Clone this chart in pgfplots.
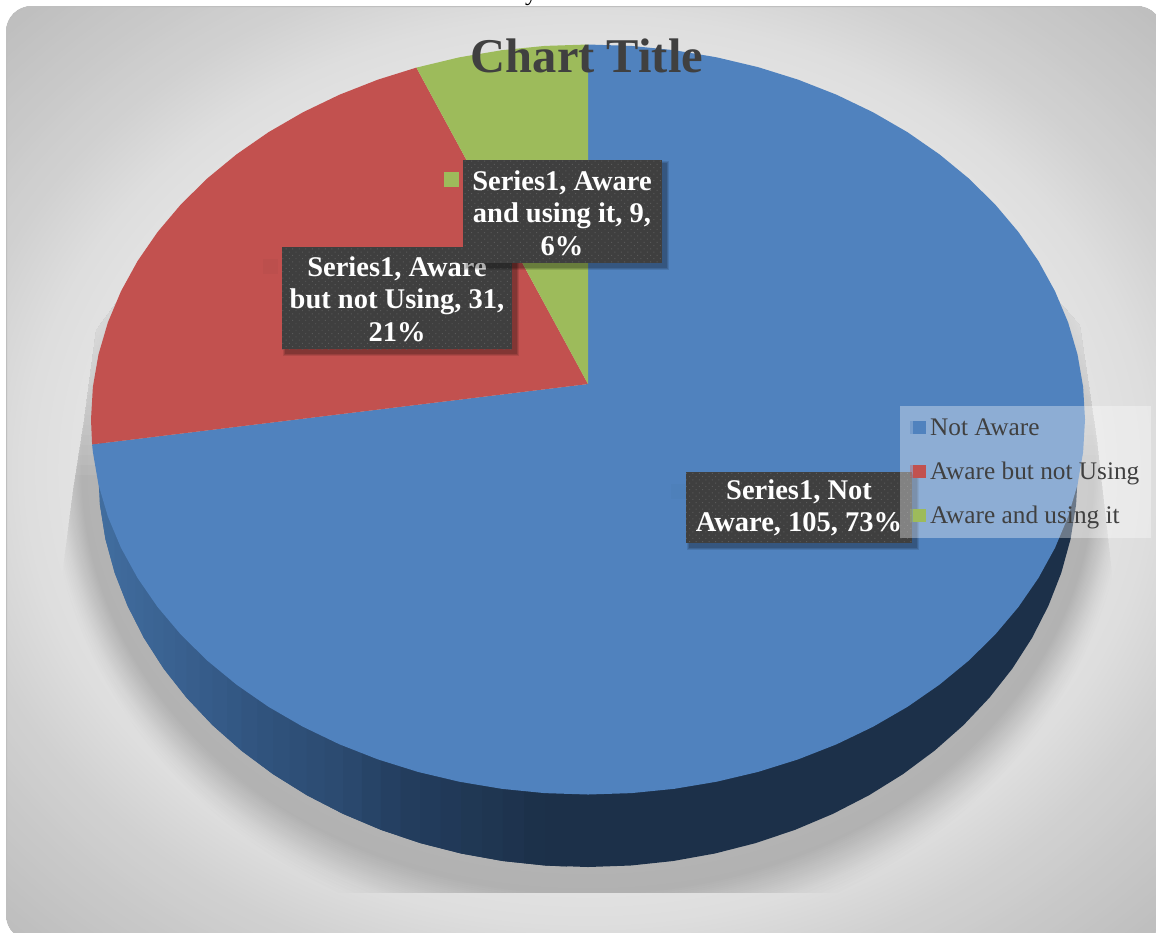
\documentclass[border=0pt]{standalone}
\usepackage{fontspec}
\setmainfont{Liberation Serif}
\usepackage{pgfplots}
\pgfplotsset{compat=1.18}
\usetikzlibrary{patterns.meta}

\definecolor{pieblue}{HTML}{5082BE}
\definecolor{piered}{HTML}{C2514F}
\definecolor{piegreen}{HTML}{9DBB5B}
\definecolor{boxgrey}{HTML}{3F3F3F}
\definecolor{boxdot}{HTML}{5A5A5A}
\definecolor{inkgrey}{HTML}{404040}

% dark data-label box with a soft offset shadow: x0, y0, x1, y1
\newcommand{\labelbox}[4]{%
  \fill[black,opacity=.10] (axis cs:#1+1,#2+1) rectangle (axis cs:#3+7,#4+7);
  \fill[black,opacity=.12] (axis cs:#1+2,#2+2) rectangle (axis cs:#3+6,#4+6);
  \fill[black,opacity=.14] (axis cs:#1+3,#2+3) rectangle (axis cs:#3+4.5,#4+4.5);
  \fill[boxgrey] (axis cs:#1,#2) rectangle (axis cs:#3,#4);
  \fill[pattern={Dots[radius=.7pt,distance=4.6pt,angle=45]},pattern color=boxdot]
    (axis cs:#1,#2) rectangle (axis cs:#3,#4);
}

% one vertical slice of the disc's rim: r, g, b, outline
\newcommand{\rimslice}[4]{%
  \addplot[forget plot,draw=none,fill={rgb,255:red,#1;green,#2;blue,#3}] coordinates {#4} -- cycle;
}

\begin{document}
\begin{tikzpicture}[x=1pt,y=-1pt]
\path[use as bounding box] (0,0) rectangle (1156,932);
\clip (0,0) rectangle (1156,932);

% backdrop
\fill[white] (0,0) rectangle (1156,932);
\node[font=\fontsize{24}{24}\selectfont,anchor=base] at (531,0) {y};
\begin{scope}
  \clip[rounded corners=25pt] (6.5,6.5) rectangle (1162,940);
  \fill[black!30!white] (0,0) rectangle (1170,940);
  % bright middle falling off to grey corners, in rings
  \foreach \s in {1.50,1.49,...,0.70} {
    \pgfmathsetmacro{\p}{\s<0.97 ? 8+(\s-0.7)*18.5 : (\s<1.1 ? 13+(\s-0.97)*38.5 : 18+(\s-1.1)*25.8)}
    \fill[black!\p!white] (588,470) ellipse [x radius={582*\s}, y radius={470*\s}];
  }
\end{scope}
\draw[black!25!white,line width=1pt,rounded corners=25pt] (6.5,6.5) rectangle (1162,940);

% cast shadow under the disc, thinning out upwards along both flanks
\begin{scope}
  \clip (118,300) -- (96,330) -- (84,420) -- (73,490) -- (57,615) -- (56,893) -- (1119,893)
        -- (1118,627) -- (1108,537) -- (1097,440) -- (1080,325) -- (1058,300) -- cycle;
  \foreach \d in {80,76,73,70,67,64,62,60,58,56,54,52,50,48,46,44,42,40,38,36,34,32,30,28}
    \fill[black,opacity=.0078] (588,470) ellipse [x radius={490+0.6*\d}, y radius={397+\d}];
  \foreach \y in {335,345,...,475}
    \fill[black!10.5!white,opacity=.09] (50,290) rectangle (1125,\y);
\end{scope}

\begin{axis}[
  at={(0pt,0pt)}, anchor=north west,
  width=1156pt, height=932pt, scale only axis,
  xmin=0, xmax=1156, ymin=0, ymax=932, y dir=reverse,
  axis lines=none, clip=false,
  legend cell align=left,
  legend image code/.code={%
    \path (0pt,-6.5pt) rectangle (16pt,6.5pt);
    \path[#1,fill opacity=1] (3pt,-6.5pt) rectangle (16pt,6.5pt);},
  legend style={
    at={(0.77855,0.56438)}, anchor=north west,
    draw=none, fill=white, fill opacity=.35, text opacity=1,
    font=\fontsize{25.3}{30}\selectfont, text=inkgrey,
    row sep=21pt, inner xsep=10pt, inner ysep=10.5pt,
    /tikz/every odd column/.append style={column sep=2pt},
  },
]

% rim of the disc: lit on the left, dark from the front towards the right
\rimslice{65}{109}{159}{(99.9,435.4) (98,470) (99.9,504.6) (105.4,538.9) (105.4,450)}
\rimslice{65}{109}{158}{(99.9,504.6) (105.4,538.9) (114.7,572.8) (114.7,450) (99.9,450)}
\rimslice{64}{108}{157}{(105.4,538.9) (114.7,572.8) (121.15,589.3) (121.15,450) (105.4,450)}
\rimslice{63}{106}{155}{(114.7,572.8) (121.15,589.3) (127.6,605.8) (127.6,450) (114.7,450)}
\rimslice{63}{105}{154}{(121.15,589.3) (127.6,605.8) (135.75,621.8) (135.75,450) (121.15,450)}
\rimslice{62}{104}{153}{(127.6,605.8) (135.75,621.8) (143.9,637.8) (143.9,450) (127.6,450)}
\rimslice{61}{103}{151}{(135.75,621.8) (143.9,637.8) (153.75,653.15) (153.75,450) (135.75,450)}
\rimslice{60}{101}{149}{(143.9,637.8) (153.75,653.15) (163.6,668.5) (163.6,450) (143.9,450)}
\rimslice{59}{100}{147}{(153.75,653.15) (163.6,668.5) (175.1,683.1) (175.1,450) (153.75,450)}
\rimslice{58}{98}{145}{(163.6,668.5) (175.1,683.1) (186.6,697.7) (186.6,450) (163.6,450)}
\rimslice{57}{96}{143}{(175.1,683.1) (186.6,697.7) (199.6,711.45) (199.6,450) (175.1,450)}
\rimslice{56}{94}{140}{(186.6,697.7) (199.6,711.45) (212.6,725.2) (212.6,450) (186.6,450)}
\rimslice{54}{92}{138}{(199.6,711.45) (212.6,725.2) (227.05,737.95) (227.05,450) (199.6,450)}
\rimslice{53}{90}{135}{(212.6,725.2) (227.05,737.95) (241.5,750.7) (241.5,450) (212.6,450)}
\rimslice{51}{88}{132}{(227.05,737.95) (241.5,750.7) (257.25,762.4) (257.25,450) (227.05,450)}
\rimslice{50}{85}{128}{(241.5,750.7) (257.25,762.4) (273,774.1) (273,450) (241.5,450)}
\rimslice{48}{83}{125}{(257.25,762.4) (273,774.1) (289.95,784.65) (289.95,450) (257.25,450)}
\rimslice{47}{81}{122}{(273,774.1) (289.95,784.65) (306.9,795.2) (306.9,450) (273,450)}
\rimslice{46}{79}{119}{(289.95,784.65) (306.9,795.2) (324.95,804.5) (324.95,450) (289.95,450)}
\rimslice{45}{77}{116}{(306.9,795.2) (324.95,804.5) (343,813.8) (343,450) (306.9,450)}
\rimslice{44}{75}{113}{(324.95,804.5) (343,813.8) (361.95,821.8) (361.95,450) (324.95,450)}
\rimslice{42}{72}{109}{(343,813.8) (361.95,821.8) (380.9,829.8) (380.9,450) (343,450)}
\rimslice{39}{68}{103}{(361.95,821.8) (380.9,829.8) (400.65,836.45) (400.65,450) (361.95,450)}
\rimslice{37}{64}{98}{(380.9,829.8) (400.65,836.45) (420.4,843.1) (420.4,450) (380.9,450)}
\rimslice{35}{61}{93}{(400.65,836.45) (420.4,843.1) (440.8,848.3) (440.8,450) (400.65,450)}
\rimslice{34}{59}{91}{(420.4,843.1) (440.8,848.3) (461.2,853.5) (461.2,450) (420.4,450)}
\rimslice{33}{57}{88}{(440.8,848.3) (461.2,853.5) (482.05,857.25) (482.05,450) (440.8,450)}
\rimslice{32}{56}{84}{(461.2,853.5) (482.05,857.25) (502.9,861) (502.9,450) (461.2,450)}
\rimslice{31}{54}{81}{(482.05,857.25) (502.9,861) (524.1,863.25) (524.1,450) (482.05,450)}
\rimslice{30}{51}{78}{(502.9,861) (524.1,863.25) (545.3,865.5) (545.3,450) (502.9,450)}
\rimslice{28}{49}{74}{(524.1,863.25) (545.3,865.5) (566.6,866.5) (566.6,450) (524.1,450)}
\rimslice{28}{48}{73}{(545.3,865.5) (588,867) (630.7,865.5) (673.1,861) (714.8,853.5)
  (755.6,843.1) (795.1,829.8) (833,813.8) (869.1,795.2) (903,774.1) (934.5,750.7)
  (963.4,725.2) (989.4,697.7) (1012.4,668.5) (1032.1,637.8) (1048.4,605.8) (1061.3,572.8)
  (1070.6,538.9) (1076.1,504.6) (1078,470) (1076.1,435.4) (545.3,450)}

% Not Aware: 105
\addplot[draw=none,fill=pieblue] coordinates {
  (588,384) (588,44.5) (631.3,45.9) (674.3,50.2) (716.6,57.3) (758,67.1)
  (798,79.6) (836.5,94.7) (873.1,112.3) (907.5,132.2) (939.4,154.3)
  (968.7,178.4) (995.1,204.4) (1018.4,232) (1038.4,261) (1055,291.2)
  (1068.1,322.4) (1077.5,354.4) (1083.1,386.8) (1085,419.5)
  (1083.1,452.2) (1077.5,484.6) (1068.1,516.6) (1055,547.8) (1038.4,578)
  (1018.4,607) (995.1,634.6) (968.7,660.6) (939.4,684.7) (907.5,706.8)
  (873.1,726.7) (836.5,744.3) (798,759.4) (758,771.9) (716.6,781.7)
  (674.3,788.8) (631.3,793.1) (588,794.5) (544.7,793.1) (501.7,788.8)
  (459.4,781.7) (418,771.9) (378,759.4) (339.5,744.3) (302.9,726.7)
  (268.5,706.8) (236.6,684.7) (207.3,660.6) (180.9,634.6) (157.6,607)
  (137.6,578) (121,547.8) (107.9,516.6) (98.5,484.6) (92.9,452.2) (92.1,444.4)
} -- cycle;
\addlegendentry{Not Aware}

% Aware but not Using: 31
\addplot[draw=none,fill=piered] coordinates {
  (588,384) (92.1,444.4) (91,419.5) (92.9,386.8) (98.5,354.4) (107.9,322.4)
  (121,291.2) (137.6,261) (157.6,232) (180.9,204.4) (207.3,178.4)
  (236.6,154.3) (268.5,132.2) (302.9,112.3) (339.5,94.7) (378,79.6) (416.4,67.6)
} -- cycle;
\addlegendentry{Aware but not Using}

% Aware and using it: 9
\addplot[draw=none,fill=piegreen] coordinates {
  (588,384) (416.4,67.6) (459.4,57.3) (501.7,50.2) (544.7,45.9) (588,44.5)
} -- cycle;
\addlegendentry{Aware and using it}

% faint key squares beside the labels
\fill[black!3!piered] (axis cs:263,259) rectangle (axis cs:278,274);
\fill[black!2!pieblue] (axis cs:671,484) rectangle (axis cs:686,499);

% data labels
\labelbox{686}{472}{912}{543}
\node[font=\fontsize{28.5}{32}\selectfont\bfseries,text=white,align=center]
  at (axis cs:799,508) {Series1, Not\\Aware, 105, 73\%};

\labelbox{282}{247}{512}{349}
\node[font=\fontsize{28.5}{32.5}\selectfont\bfseries,text=white,align=center]
  at (axis cs:397,299) {Series1, Aware\\but not Using, 31,\\21\%};

\labelbox{463}{160}{662}{263}
\fill[piegreen] (axis cs:444,172) rectangle (axis cs:459,187);
\node[font=\fontsize{28.5}{32.5}\selectfont\bfseries,text=white,align=center]
  at (axis cs:562,213) {Series1, Aware\\and using it, 9,\\6\%};

% heading
\node[font=\fontsize{48.5}{50}\selectfont\bfseries,text=inkgrey,anchor=base]
  at (axis cs:587,72) {Chart Title};

\end{axis}
\end{tikzpicture}
\end{document}
